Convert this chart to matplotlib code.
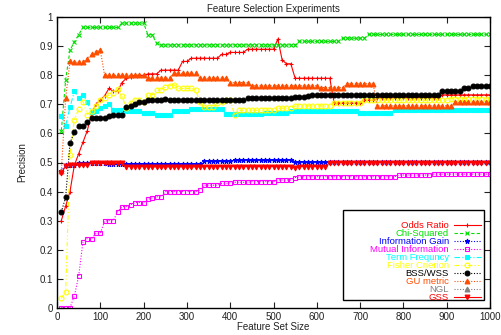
import matplotlib
matplotlib.use("Agg")
import matplotlib.pyplot as plt
from matplotlib.patches import Rectangle

plt.rcParams['font.family'] = ['Liberation Sans', 'DejaVu Sans']

# tamaños de conjunto de atributos (10..1000)
feature_sizes = list(range(10, 1001, 10))

odds_ratio = [
    0.30, 0.35, 0.40, 0.49, 0.53, 0.57, 0.61, 0.67, 0.70, 0.715,
    0.73, 0.755, 0.745, 0.745, 0.775, 0.79, 0.795, 0.80, 0.80, 0.80,
    0.805, 0.805, 0.805, 0.818, 0.818, 0.818, 0.818, 0.818, 0.848, 0.848,
    0.859, 0.859, 0.859, 0.859, 0.859, 0.859, 0.859, 0.872, 0.872, 0.879,
    0.879, 0.879, 0.879, 0.89, 0.89, 0.89, 0.89, 0.89, 0.89, 0.89,
    0.925, 0.853, 0.84, 0.84, 0.79, 0.79, 0.79, 0.79, 0.79, 0.79,
    0.79, 0.79, 0.79, 0.705, 0.705, 0.705, 0.705, 0.705, 0.705, 0.705,
    0.715, 0.715, 0.715, 0.723, 0.723, 0.723, 0.723, 0.723, 0.723, 0.723,
    0.723, 0.723, 0.723, 0.723, 0.723, 0.723, 0.723, 0.723, 0.733, 0.733,
    0.733, 0.733, 0.733, 0.733, 0.733, 0.733, 0.733, 0.733, 0.733, 0.733,
]

chi_squared = [
    0.61, 0.785, 0.887, 0.915, 0.94, 0.965, 0.965, 0.965, 0.965, 0.965,
    0.965, 0.965, 0.965, 0.965, 0.98, 0.98, 0.98, 0.98, 0.98, 0.98,
    0.94, 0.94, 0.91, 0.905, 0.905, 0.905, 0.905, 0.905, 0.905, 0.905,
    0.905, 0.905, 0.905, 0.905, 0.905, 0.905, 0.905, 0.905, 0.905, 0.905,
    0.905, 0.905, 0.905, 0.905, 0.905, 0.905, 0.905, 0.905, 0.905, 0.905,
    0.905, 0.905, 0.905, 0.905, 0.905, 0.917, 0.917, 0.917, 0.917, 0.917,
    0.917, 0.917, 0.917, 0.917, 0.917, 0.928, 0.928, 0.928, 0.928, 0.928,
    0.928, 0.941, 0.941, 0.941, 0.941, 0.941, 0.941, 0.941, 0.941, 0.941,
    0.941, 0.941, 0.941, 0.941, 0.941, 0.941, 0.941, 0.941, 0.941, 0.941,
    0.941, 0.941, 0.941, 0.941, 0.941, 0.941, 0.941, 0.941, 0.941, 0.941,
]

info_gain = [
    0.47, 0.493, 0.49, 0.49, 0.497, 0.50, 0.50, 0.50, 0.50, 0.50,
    0.497, 0.495, 0.495, 0.494, 0.494, 0.494, 0.494, 0.494, 0.494, 0.494,
    0.495, 0.495, 0.495, 0.495, 0.495, 0.495, 0.495, 0.495, 0.495, 0.495,
    0.495, 0.495, 0.495, 0.506, 0.506, 0.506, 0.506, 0.506, 0.506, 0.506,
    0.51, 0.51, 0.51, 0.51, 0.51, 0.51, 0.51, 0.51, 0.51, 0.51,
    0.51, 0.51, 0.51, 0.51, 0.503, 0.503, 0.503, 0.503, 0.503, 0.503,
    0.503, 0.503, 0.503, 0.503, 0.503, 0.503, 0.503, 0.503, 0.503, 0.503,
    0.503, 0.503, 0.503, 0.503, 0.503, 0.503, 0.503, 0.503, 0.503, 0.503,
    0.503, 0.503, 0.503, 0.503, 0.503, 0.503, 0.503, 0.503, 0.503, 0.503,
    0.503, 0.503, 0.503, 0.503, 0.503, 0.503, 0.503, 0.503, 0.503, 0.503,
]

mutual_info = [
    0.0, 0.0, 0.0, 0.04, 0.109, 0.227, 0.238, 0.238, 0.256, 0.256,
    0.298, 0.30, 0.30, 0.33, 0.348, 0.348, 0.355, 0.362, 0.362, 0.362,
    0.373, 0.378, 0.382, 0.382, 0.40, 0.40, 0.40, 0.40, 0.40, 0.40,
    0.40, 0.40, 0.405, 0.422, 0.422, 0.422, 0.422, 0.428, 0.428, 0.43,
    0.432, 0.432, 0.432, 0.432, 0.434, 0.434, 0.434, 0.434, 0.434, 0.434,
    0.44, 0.44, 0.44, 0.44, 0.448, 0.451, 0.451, 0.451, 0.451, 0.451,
    0.451, 0.451, 0.451, 0.451, 0.451, 0.451, 0.451, 0.451, 0.451, 0.451,
    0.451, 0.451, 0.451, 0.451, 0.451, 0.451, 0.451, 0.451, 0.457, 0.457,
    0.457, 0.457, 0.457, 0.457, 0.457, 0.457, 0.46, 0.46, 0.46, 0.46,
    0.46, 0.46, 0.46, 0.46, 0.46, 0.46, 0.46, 0.46, 0.46, 0.46,
]

term_freq = [
    0.661, 0.627, 0.69, 0.745, 0.722, 0.733, 0.707, 0.673, 0.676, 0.688,
    0.696, 0.70, 0.682, 0.682, 0.682, 0.676, 0.676, 0.676, 0.676, 0.67,
    0.67, 0.67, 0.665, 0.665, 0.665, 0.665, 0.676, 0.676, 0.676, 0.676,
    0.684, 0.684, 0.684, 0.684, 0.684, 0.684, 0.684, 0.684, 0.667, 0.667,
    0.667, 0.667, 0.667, 0.667, 0.667, 0.667, 0.667, 0.669, 0.669, 0.669,
    0.669, 0.669, 0.669, 0.677, 0.677, 0.677, 0.677, 0.677, 0.677, 0.677,
    0.677, 0.677, 0.677, 0.677, 0.677, 0.677, 0.677, 0.677, 0.677, 0.669,
    0.669, 0.669, 0.669, 0.669, 0.669, 0.669, 0.669, 0.681, 0.681, 0.681,
    0.681, 0.681, 0.681, 0.681, 0.681, 0.681, 0.681, 0.681, 0.681, 0.681,
    0.681, 0.681, 0.681, 0.681, 0.681, 0.681, 0.681, 0.681, 0.681, 0.681,
]

fisher = [
    0.032, 0.055, 0.527, 0.648, 0.684, 0.71, 0.665, 0.676, 0.696, 0.716,
    0.722, 0.733, 0.741, 0.753, 0.728, 0.688, 0.705, 0.716, 0.716, 0.71,
    0.733, 0.733, 0.75, 0.75, 0.76, 0.764, 0.768, 0.755, 0.755, 0.755,
    0.755, 0.75, 0.71, 0.69, 0.69, 0.69, 0.705, 0.71, 0.715, 0.715,
    0.665, 0.68, 0.68, 0.68, 0.68, 0.68, 0.68, 0.68, 0.68, 0.68,
    0.687, 0.687, 0.687, 0.687, 0.695, 0.695, 0.695, 0.695, 0.695, 0.695,
    0.695, 0.695, 0.695, 0.705, 0.705, 0.705, 0.705, 0.705, 0.705, 0.705,
    0.715, 0.715, 0.715, 0.715, 0.715, 0.715, 0.715, 0.715, 0.715, 0.715,
    0.715, 0.715, 0.715, 0.715, 0.715, 0.715, 0.715, 0.715, 0.715, 0.715,
    0.72, 0.72, 0.72, 0.72, 0.72, 0.72, 0.72, 0.72, 0.72, 0.72,
]

bss_wss = [
    0.33, 0.38, 0.567, 0.604, 0.627, 0.627, 0.638, 0.653, 0.653, 0.653,
    0.653, 0.661, 0.665, 0.665, 0.665, 0.69, 0.693, 0.70, 0.71, 0.71,
    0.714, 0.714, 0.714, 0.714, 0.718, 0.716, 0.716, 0.716, 0.716, 0.716,
    0.716, 0.716, 0.716, 0.716, 0.716, 0.716, 0.716, 0.716, 0.716, 0.716,
    0.716, 0.716, 0.716, 0.721, 0.721, 0.721, 0.721, 0.721, 0.721, 0.721,
    0.721, 0.721, 0.721, 0.721, 0.724, 0.726, 0.726, 0.73, 0.733, 0.733,
    0.733, 0.733, 0.733, 0.733, 0.733, 0.733, 0.733, 0.733, 0.733, 0.733,
    0.733, 0.733, 0.733, 0.733, 0.733, 0.733, 0.733, 0.733, 0.733, 0.733,
    0.733, 0.733, 0.733, 0.733, 0.733, 0.733, 0.733, 0.733, 0.746, 0.746,
    0.746, 0.746, 0.746, 0.756, 0.756, 0.763, 0.763, 0.763, 0.763, 0.763,
]

gu_metric = [
    0.47, 0.722, 0.848, 0.845, 0.845, 0.845, 0.857, 0.872, 0.882, 0.887,
    0.80, 0.80, 0.80, 0.80, 0.80, 0.80, 0.80, 0.80, 0.80, 0.80,
    0.79, 0.79, 0.79, 0.79, 0.79, 0.79, 0.807, 0.807, 0.807, 0.807,
    0.807, 0.807, 0.79, 0.79, 0.79, 0.79, 0.79, 0.79, 0.79, 0.775,
    0.775, 0.775, 0.775, 0.775, 0.764, 0.764, 0.764, 0.764, 0.764, 0.764,
    0.764, 0.764, 0.764, 0.764, 0.764, 0.764, 0.764, 0.764, 0.764, 0.764,
    0.758, 0.758, 0.758, 0.758, 0.758, 0.758, 0.771, 0.771, 0.771, 0.771,
    0.771, 0.771, 0.771, 0.695, 0.695, 0.695, 0.695, 0.695, 0.695, 0.695,
    0.695, 0.695, 0.695, 0.695, 0.695, 0.695, 0.695, 0.695, 0.695, 0.695,
    0.695, 0.707, 0.707, 0.707, 0.707, 0.707, 0.707, 0.707, 0.707, 0.707,
]

ngl = []  # no se ve en la figura, solo aparece en la leyenda

gss = [
    0.463, 0.488, 0.49, 0.492, 0.49, 0.49, 0.493, 0.497, 0.497, 0.497,
    0.497, 0.497, 0.497, 0.497, 0.497, 0.486, 0.486, 0.486, 0.486, 0.486,
    0.485, 0.485, 0.485, 0.485, 0.485, 0.485, 0.485, 0.485, 0.485, 0.485,
    0.485, 0.485, 0.485, 0.486, 0.486, 0.486, 0.486, 0.486, 0.486, 0.486,
    0.486, 0.486, 0.486, 0.486, 0.486, 0.486, 0.486, 0.486, 0.486, 0.486,
    0.486, 0.486, 0.486, 0.486, 0.48, 0.486, 0.486, 0.486, 0.486, 0.486,
    0.486, 0.486, 0.50, 0.50, 0.50, 0.50, 0.50, 0.50, 0.50, 0.50,
    0.50, 0.50, 0.50, 0.50, 0.50, 0.50, 0.50, 0.50, 0.50, 0.50,
    0.50, 0.50, 0.50, 0.50, 0.50, 0.50, 0.50, 0.50, 0.50, 0.50,
    0.50, 0.50, 0.50, 0.50, 0.50, 0.50, 0.50, 0.50, 0.50, 0.50,
]

labels = ["Odds Ratio", "Chi-Squared", "Information Gain", "Mutual Information",
          "Term Frequncy", "Fisher Crierion", "BSS/WSS", "GU metric", "NGL", "GSS"]

dotted = (0, (1, 1.5))
estilos = [
    # color, linea, marcador, relleno
    ("#ff0000", "-", "+", True),
    ("#00e000", (0, (3, 2)), "x", True),
    ("#0000ff", dotted, "*", True),
    ("#ff00ff", dotted, "s", False),
    ("#00ffff", (0, (5, 2, 1, 2)), "s", True),
    ("#ffff00", (0, (4, 2, 1, 2, 1, 2)), "o", False),
    ("#000000", dotted, "o", True),
    ("#ff4d00", dotted, "^", True),
    ("#808080", dotted, "^", True),
    ("#ff0000", "-", "v", True),
]
series = [odds_ratio, chi_squared, info_gain, mutual_info, term_freq,
          fisher, bss_wss, gu_metric, ngl, gss]

fig = plt.figure(figsize=(5.01, 3.35), dpi=100)
ax = fig.add_axes([57 / 501, (335 - 307.7) / 335, 433 / 501, 290.4 / 335])

for ys, lab, (col, ls, mk, filled) in zip(series, labels, estilos):
    xs = feature_sizes[:len(ys)]
    ax.plot(xs, ys, color=col, linestyle=ls, linewidth=0.8, marker=mk,
            markersize=3.5, markeredgewidth=0.8,
            markerfacecolor=col if filled else "none", markeredgecolor=col,
            label=lab)

ax.set_xlim(0, 1000)
ax.set_ylim(0, 1)
ax.set_xticks(range(0, 1001, 100))
ax.set_yticks([i / 10 for i in range(11)])
ax.set_yticklabels(["0"] + ["0.%d" % i for i in range(1, 10)] + ["1"])
ax.tick_params(direction="in", top=True, right=True, length=4, width=0.8,
               labelsize=7, colors="#222222", pad=3)
for s in ax.spines.values():
    s.set_linewidth(1.0)

ax.set_title("Feature Selection Experiments", fontsize=7, pad=4, color="#222222")
ax.set_xlabel("Feature Set Size", fontsize=7, labelpad=0, color="#222222")
ax.set_ylabel("Precision", fontsize=7, labelpad=9, color="#222222")

# recuadro de la leyenda (estilo gnuplot)
def px2ax(px, py):
    return (px - 57) / 433, (307.7 - py) / 290.4

x0, y0 = px2ax(343, 300)
x1, y1 = px2ax(484, 210)
ax.add_patch(Rectangle((x0, y0), x1 - x0, y1 - y0, transform=ax.transAxes,
                       facecolor="white", edgecolor="black", linewidth=1.0,
                       zorder=5))

lx, ly = px2ax(481, 302.5)
leg = ax.legend(loc="lower right", bbox_to_anchor=(lx, ly), frameon=False,
                markerfirst=False, fontsize=6.8, labelspacing=-0.1,
                handlelength=2.9, handletextpad=0.5, borderpad=0,
                borderaxespad=0)
leg.set_zorder(6)
for txt, (col, ls, mk, filled) in zip(leg.get_texts(), estilos):
    txt.set_color(col)

fig.savefig("out.png", dpi=100)
